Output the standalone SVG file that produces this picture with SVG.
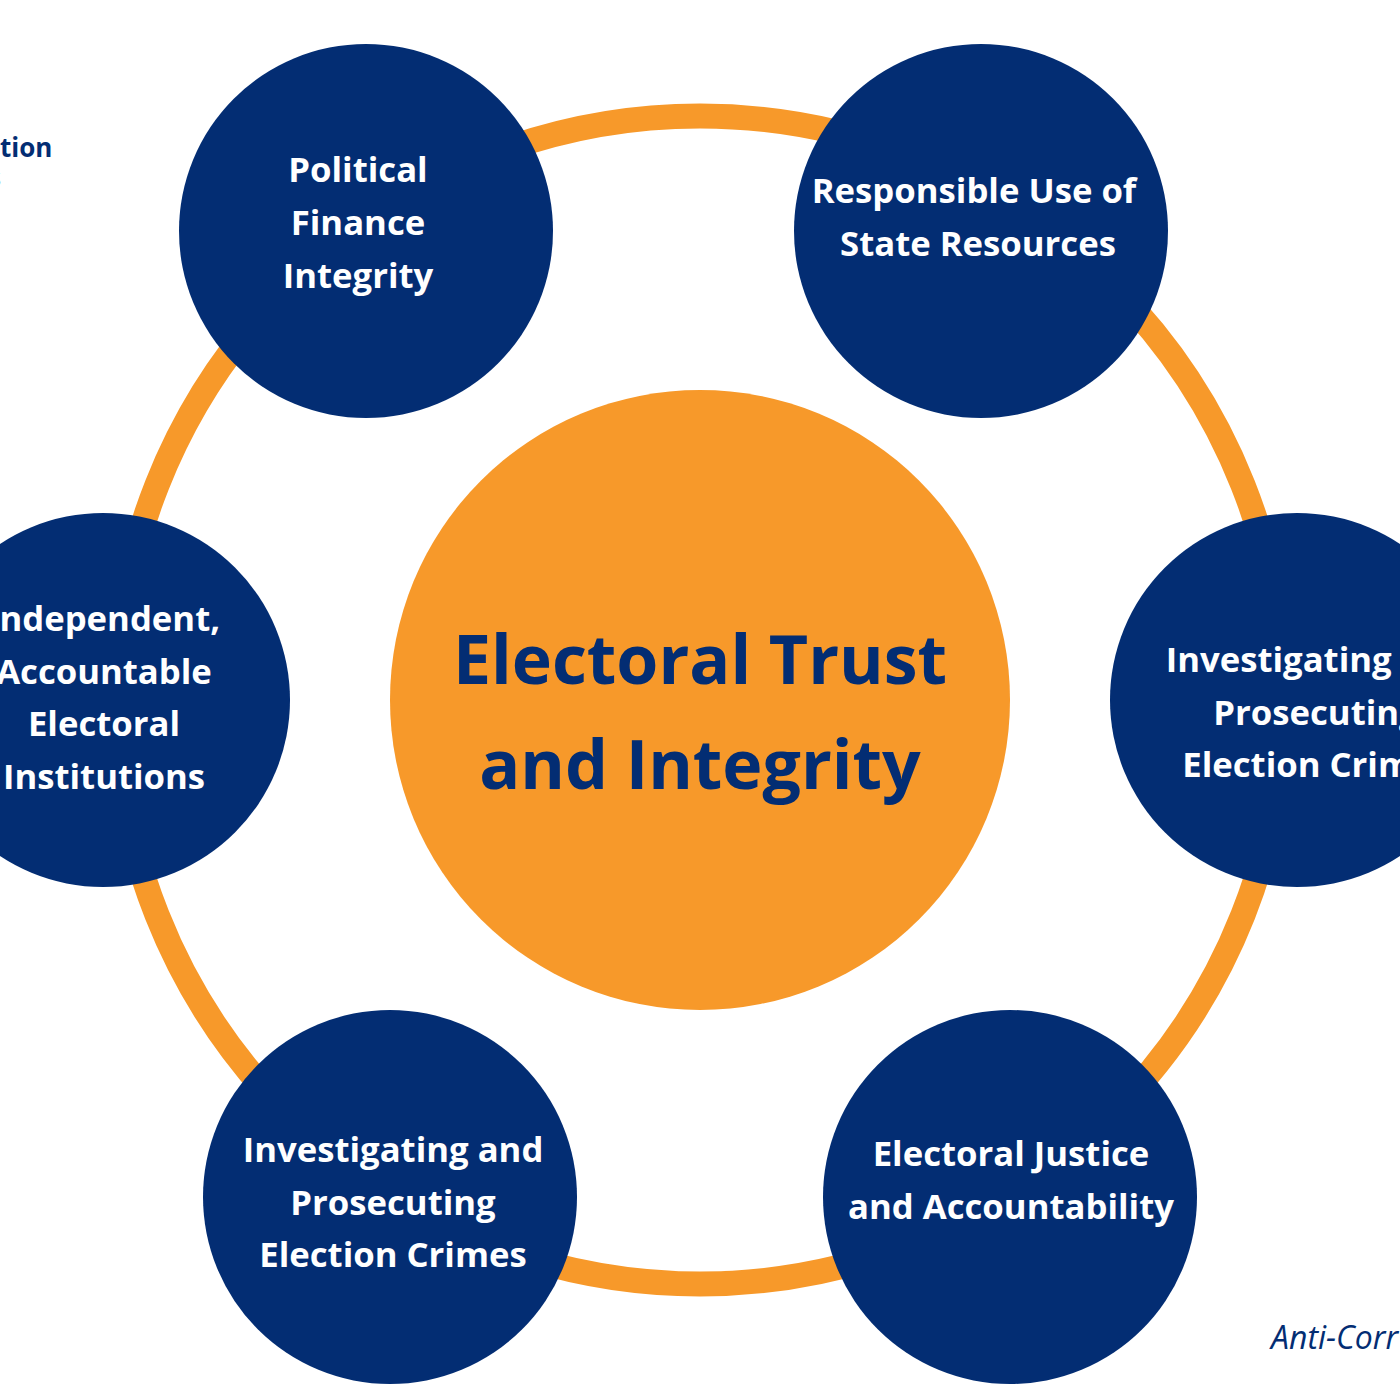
<svg xmlns="http://www.w3.org/2000/svg" width="1400" height="1400" viewBox="0 0 1400 1400">
<style>
.node{fill:#032D73}
.lbl{font-family:"Open Sans",Lato,sans-serif;font-weight:700;font-size:34.7px;fill:#ffffff;text-anchor:middle}
.big{font-family:"Open Sans",Lato,sans-serif;font-weight:700;font-size:68px;fill:#032D73;text-anchor:middle}
.side{font-family:"Open Sans",Lato,sans-serif;fill:#032D73}
</style>
<rect width="1400" height="1400" fill="#ffffff"/>
<g id="connectors">
<circle cx="700" cy="700" r="584" fill="none" stroke="#F7992A" stroke-width="25"/>
</g>
<g id="center">
<circle cx="700" cy="700" r="310" fill="#F7992A"/>
<text class="big" x="700" y="684">Electoral Trust</text>
<text class="big" x="700" y="789">and Integrity</text>
</g>
<g id="n1">
<circle class="node" cx="366" cy="231" r="187"/>
<text class="lbl" x="358" y="182">Political</text>
<text class="lbl" x="358" y="235">Finance</text>
<text class="lbl" x="358" y="288">Integrity</text>
</g>
<g id="n2">
<circle class="node" cx="981" cy="231" r="187"/>
<text class="lbl" x="974" y="203">Responsible Use of</text>
<text class="lbl" x="978" y="256">State Resources</text>
</g>
<g id="n3">
<circle class="node" cx="1297" cy="700" r="187"/>
<text class="lbl" x="1316" y="672">Investigating and</text>
<text class="lbl" x="1316" y="725">Prosecuting</text>
<text class="lbl" x="1316" y="777">Election Crimes</text>
</g>
<g id="n4">
<circle class="node" cx="1010" cy="1197" r="187"/>
<text class="lbl" x="1011" y="1166">Electoral Justice</text>
<text class="lbl" x="1011" y="1219">and Accountability</text>
</g>
<g id="n5">
<circle class="node" cx="390" cy="1197" r="187"/>
<text class="lbl" x="393" y="1162">Investigating and</text>
<text class="lbl" x="393" y="1215">Prosecuting</text>
<text class="lbl" x="393" y="1267">Election Crimes</text>
</g>
<g id="n6">
<circle class="node" cx="103" cy="700" r="187"/>
<text class="lbl" x="104" y="631">Independent,</text>
<text class="lbl" x="104" y="684">Accountable</text>
<text class="lbl" x="104" y="736">Electoral</text>
<text class="lbl" x="104" y="789">Institutions</text>
</g>
<g id="extra">
<text class="side" x="0" y="157" font-weight="700" font-size="26">tion</text>
<text class="side" x="-12" y="187" font-weight="700" font-size="26">s</text>
<text class="side" x="1271" y="1349" font-style="italic" font-size="32">Anti-Corr</text>
</g>
</svg>
